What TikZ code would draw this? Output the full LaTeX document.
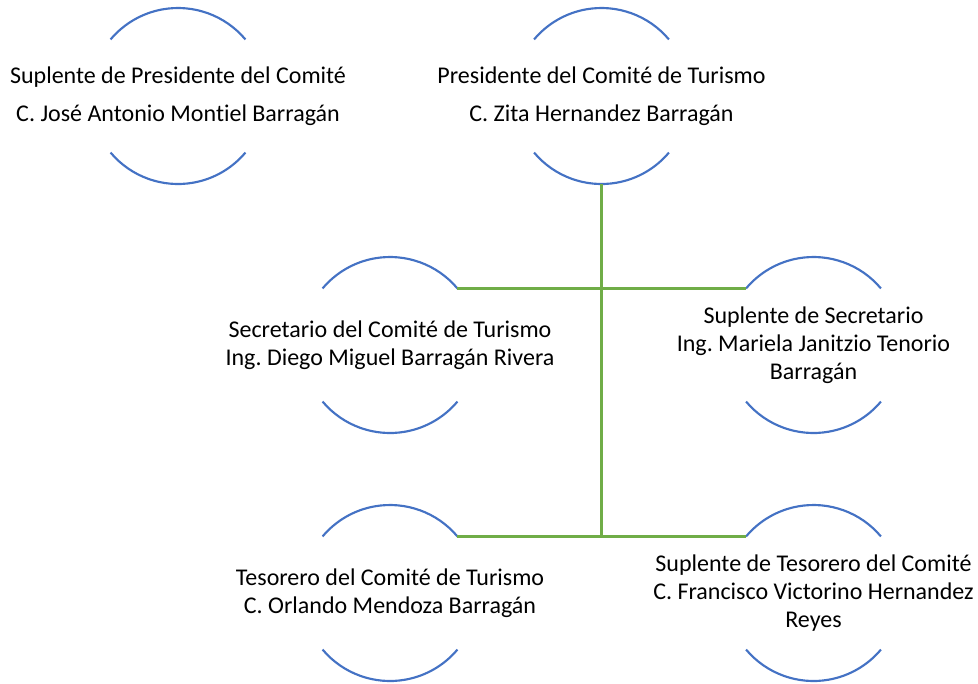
\documentclass[tikz,border=0pt]{standalone}
\usepackage{fontspec}
\setmainfont{Carlito}[RawFeature={-liga}]
\frenchspacing
\definecolor{ringblue}{RGB}{68,114,196}
\definecolor{linkgreen}{RGB}{112,173,71}
\tikzset{
	ring/.style={circle,minimum size=132pt,inner sep=0pt,outer sep=0pt},
	ringarc/.style={draw=ringblue,line width=1.6pt},
	link/.style={draw=linkgreen,line width=1.6pt},
	txt/.style={align=center,inner sep=0.75pt,font=\fontsize{18}{21}\selectfont},
	txttop/.style={txt,font=\fontsize{18}{28.5}\selectfont}
}
\begin{document}
\begin{tikzpicture}[x=0.75pt,y=0.75pt,yscale=-1,xscale=1]
	\useasboundingbox (0,0) rectangle (978,683);
	
	% rings
	\node [ring] (supres) at (178,96) {};
	\node [ring] (pres) at (601.5,96) {};
	\node [ring] (secr) at (390,345) {};
	\node [ring] (supsecr) at (813.5,345) {};
	\node [ring] (tes) at (390,593) {};
	\node [ring] (suptes) at (813.5,593) {};
	
	% top and bottom arcs of every ring
	\foreach \n in {supres,pres,secr,supsecr,tes,suptes}{
		\draw [ringarc] (\n.40) arc [start angle=-40,end angle=-140,radius=88];
		\draw [ringarc] (\n.220) arc [start angle=-220,end angle=-320,radius=88];
	}
	
	% Text Node
	\node [txttop] (supres-t) at (supres) {Suplente de Presidente del Comité\\C. José Antonio Montiel Barragán};
	% Text Node
	\node [txttop] (pres-t) at (pres) {Presidente del Comité de Turismo\\C. Zita Hernandez Barragán};
	% Text Node
	\node [txt] (secr-t) at (secr) {Secretario del Comité de Turismo\\Ing. Diego Miguel Barragán Rivera};
	% Text Node
	\node [txt] (supsecr-t) at (supsecr) {Suplente de Secretario\\Ing. Mariela Janitzio Tenorio\\Barragán};
	% Text Node
	\node [txt] (tes-t) at (tes) {Tesorero del Comité de Turismo\\C. Orlando Mendoza Barragán};
	% Text Node
	\node [txt] (suptes-t) at (suptes) {Suplente de Tesorero del Comité\\C. Francisco Victorino Hernandez\\Reyes};
	
	% links
	\coordinate (trunk) at (pres.south |- tes.40);
	\draw [link] (pres.south) -- (trunk);
	\draw [link] (secr.40) -- (supsecr.140);
	\draw [link] (tes.40) -- (suptes.140);
	
\end{tikzpicture}
\end{document}
